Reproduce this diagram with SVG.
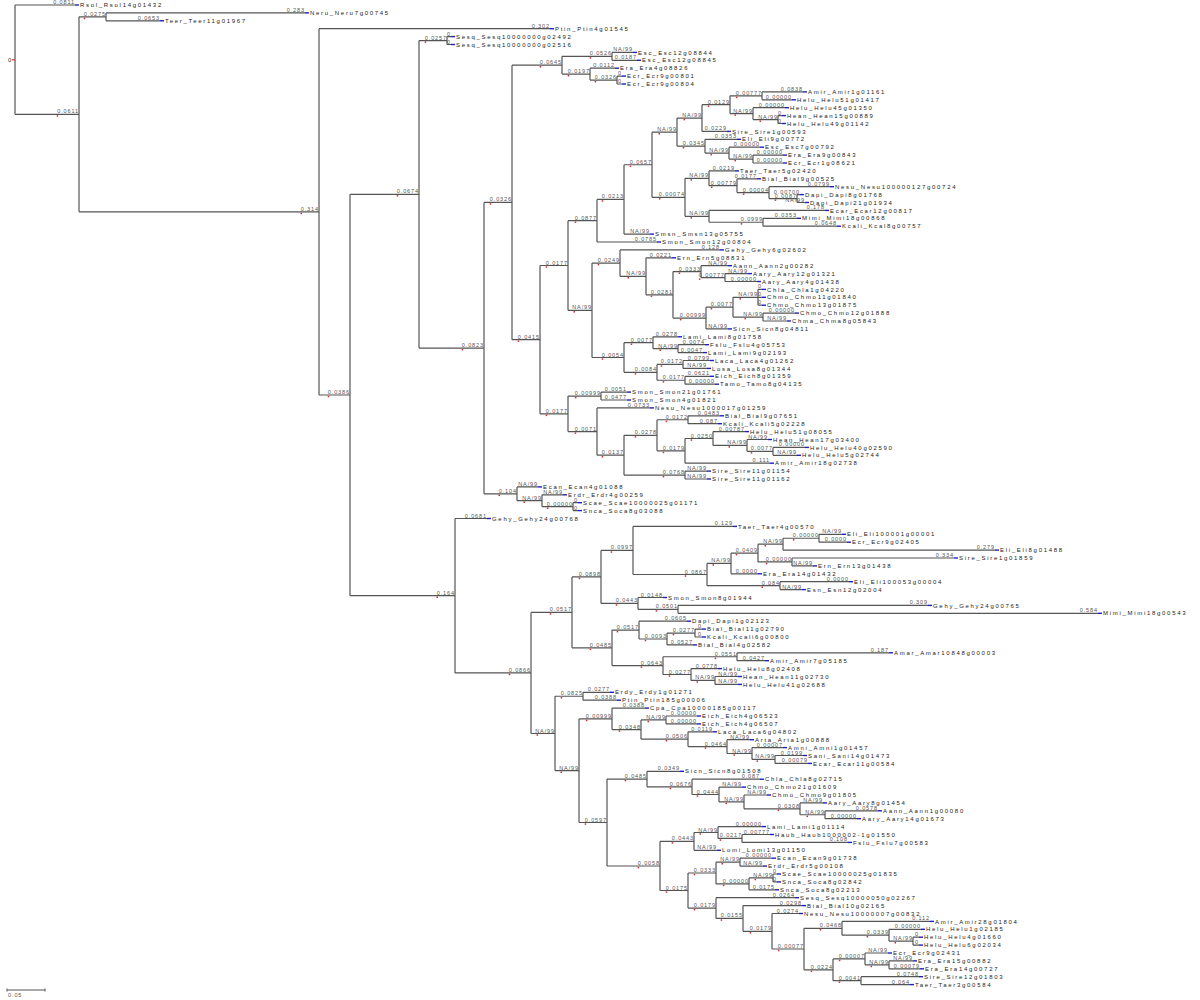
<svg xmlns="http://www.w3.org/2000/svg" width="1200" height="1000" viewBox="0 0 1200 1000">
<style>
.e path{fill:none;stroke:#555;stroke-width:1.2}
.b{font-family:"Liberation Sans",Arial,sans-serif;font-size:5.5px;fill:#555;letter-spacing:0.9px;text-anchor:end}
.l{font-family:"Liberation Sans",Arial,sans-serif;font-size:6px;fill:#222;letter-spacing:1.7px}
.m{fill:#1f1fc8}
.r{fill:#d03030}
</style>
<rect width="1200" height="1000" fill="#fff"/>
<g id="edges" class="e">
<path d="M15,5V114.35M15,5H75M15,114.35H79"/>
<path d="M79,16.85V211.85M79,16.85H106M79,211.85H319"/>
<path d="M106,12.9V20.8M106,12.9H305M106,20.8H160"/>
<path d="M319,28.7V395M319,28.7H550M319,395H350"/>
<path d="M350,194.3V595.7M350,194.3H419M350,595.7H455"/>
<path d="M419,40.55V348.1M419,40.55H447M419,348.1H484"/>
<path d="M447,36.6V44.5M447,36.6H451M447,44.5H451"/>
<path d="M484,202.4V493.8M484,202.4H512M484,493.8H517"/>
<path d="M512,65.2V339.65M512,65.2H562M512,339.65H540"/>
<path d="M562,56.35V74.1M562,56.35H612M562,74.1H590"/>
<path d="M612,52.4V60.3M612,52.4H633M612,60.3H637"/>
<path d="M590,68.2V80.05M590,68.2H615M590,80.05H617"/>
<path d="M617,76.1V84M617,76.1H622M617,84H622"/>
<path d="M540,265.5V413.8M540,265.5H568M540,413.8H568"/>
<path d="M568,220.7V310.3M568,220.7H597M568,310.3H592"/>
<path d="M597,199.4V242M597,199.4H624M597,242H657"/>
<path d="M624,164.75V234.1M624,164.75H652M624,234.1H650"/>
<path d="M652,132.2V197.3M652,132.2H677M652,197.3H685"/>
<path d="M677,118.1V146.2M677,118.1H702M677,146.2H705"/>
<path d="M702,104.7V131.4M702,104.7H730M702,131.4H727"/>
<path d="M730,95.85V113.6M730,95.85H762M730,113.6H753"/>
<path d="M762,91.9V99.8M762,91.9H803M762,99.8H792"/>
<path d="M753,107.7V119.55M753,107.7H785M753,119.55H778"/>
<path d="M778,115.6V123.5M778,115.6H782M778,123.5H782"/>
<path d="M705,139.3V153.1M705,139.3H737M705,153.1H729"/>
<path d="M729,147.2V159.05M729,147.2H760M729,159.05H753"/>
<path d="M753,155.1V163M753,155.1H783M753,163H783"/>
<path d="M685,178.3V216.3M685,178.3H709M685,216.3H709"/>
<path d="M709,170.9V185.7M709,170.9H735M709,185.7H737"/>
<path d="M737,178.8V192.6M737,178.8H757M737,192.6H769"/>
<path d="M769,186.7V198.55M769,186.7H830M769,198.55H797"/>
<path d="M797,194.6V202.5M797,194.6H800M797,202.5H805"/>
<path d="M709,210.4V222.25M709,210.4H825M709,222.25H763"/>
<path d="M763,218.3V226.2M763,218.3H797M763,226.2H837"/>
<path d="M592,263.1V357.5M592,263.1H620M592,357.5H624"/>
<path d="M620,249.9V276.3M620,249.9H720M620,276.3H646"/>
<path d="M646,257.8V294.8M646,257.8H672M646,294.8H673"/>
<path d="M673,271.6V318.05M673,271.6H701M673,318.05H706"/>
<path d="M701,265.7V277.55M701,265.7H728M701,277.55H725"/>
<path d="M725,273.6V281.5M725,273.6H748M725,281.5H757"/>
<path d="M706,307.2V328.9M706,307.2H733M706,328.9H728"/>
<path d="M733,297.3V317.05M733,297.3H758M733,317.05H763"/>
<path d="M758,289.4V305.2M758,289.4H762M758,297.3H762M758,305.2H762"/>
<path d="M763,313.1V321M763,313.1H795M763,321H787"/>
<path d="M624,342.7V372.35M624,342.7H653M624,372.35H657"/>
<path d="M653,336.8V348.65M653,336.8H678M653,348.65H678"/>
<path d="M678,344.7V352.6M678,344.7H705M678,352.6H703"/>
<path d="M657,364.45V380.25M657,364.45H683M657,380.25H685"/>
<path d="M683,360.5V368.4M683,360.5H710M683,368.4H707"/>
<path d="M685,376.3V384.2M685,376.3H710M685,384.2H715"/>
<path d="M568,396.05V431.55M568,396.05H601M568,431.55H597"/>
<path d="M601,392.1V400M601,392.1H627M601,400H627"/>
<path d="M597,407.9V455.2M597,407.9H650M597,455.2H624"/>
<path d="M624,435.3V475.05M624,435.3H657M624,475.05H685"/>
<path d="M657,419.75V450.85M657,419.75H688M657,450.85H685"/>
<path d="M688,415.8V423.7M688,415.8H720M688,423.7H718"/>
<path d="M685,438.5V463.2M685,438.5H713M685,463.2H770"/>
<path d="M713,431.6V445.4M713,431.6H745M713,445.4H747"/>
<path d="M747,439.5V451.35M747,439.5H768M747,451.35H773"/>
<path d="M773,447.4V455.3M773,447.4H805M773,455.3H797"/>
<path d="M685,471.1V479M685,471.1H707M685,479H707"/>
<path d="M517,486.9V500.7M517,486.9H538M517,500.7H542"/>
<path d="M542,494.8V506.65M542,494.8H563M542,506.65H573"/>
<path d="M573,502.7V510.6M573,502.7H578M573,510.6H578"/>
<path d="M455,518.5V672.9M455,518.5H487M455,672.9H531"/>
<path d="M531,612.4V733.5M531,612.4H572M531,733.5H555"/>
<path d="M572,576.9V647.85M572,576.9H601M572,647.85H612"/>
<path d="M601,550.45V603.4M601,550.45H633M601,603.4H638"/>
<path d="M633,526.4V574.5M633,526.4H733M633,574.5H707"/>
<path d="M707,563.4V585.65M707,563.4H731M707,585.65H780"/>
<path d="M731,553.1V573.8M731,553.1H758M731,573.8H758"/>
<path d="M758,544.2V561.95M758,544.2H783M758,561.95H792"/>
<path d="M783,538.25V550.1M783,538.25H819M783,550.1H995"/>
<path d="M819,534.3V542.2M819,534.3H842M819,542.2H847"/>
<path d="M792,558V565.9M792,558H954M792,565.9H813"/>
<path d="M780,581.7V589.6M780,581.7H849M780,589.6H802"/>
<path d="M638,597.5V609.35M638,597.5H663M638,609.35H678"/>
<path d="M678,605.4V613.3M678,605.4H928M678,613.3H1098"/>
<path d="M612,630.1V665.6M612,630.1H639M612,665.6H663"/>
<path d="M639,621.2V638.98M639,621.2H687M639,638.98H667"/>
<path d="M667,633.05V644.9M667,633.05H695M667,644.9H693"/>
<path d="M695,629.1V637M695,629.1H702M695,637H702"/>
<path d="M663,656.75V674.5M663,656.75H737M663,674.5H691"/>
<path d="M737,652.8V660.7M737,652.8H889M737,660.7H765"/>
<path d="M691,668.6V680.45M691,668.6H718M691,680.45H715"/>
<path d="M715,676.5V684.4M715,676.5H738M715,684.4H738"/>
<path d="M555,696.25V770.7M555,696.25H583M555,770.7H579"/>
<path d="M583,692.3V700.2M583,692.3H610M583,700.2H617"/>
<path d="M579,718.85V822.5M579,718.85H612M579,822.5H607"/>
<path d="M612,708.1V729.6M612,708.1H645M612,729.6H641"/>
<path d="M641,719.95V739.2M641,719.95H666M641,739.2H688"/>
<path d="M666,716V723.9M666,716H697M666,723.9H697"/>
<path d="M688,731.8V746.6M688,731.8H713M688,746.6H727"/>
<path d="M727,739.7V753.5M727,739.7H750M727,753.5H752"/>
<path d="M752,747.6V759.45M752,747.6H783M752,759.45H775"/>
<path d="M775,755.5V763.4M775,755.5H803M775,763.4H808"/>
<path d="M607,779.1V866M607,779.1H647M607,866H660"/>
<path d="M647,771.3V786.85M647,771.3H680M647,786.85H692"/>
<path d="M692,779.2V794.5M692,779.2H760M692,794.5H719"/>
<path d="M719,787.1V801.9M719,787.1H742M719,801.9H744"/>
<path d="M744,795V808.8M744,795H767M744,808.8H800"/>
<path d="M800,802.9V814.75M800,802.9H823M800,814.75H825"/>
<path d="M825,810.8V818.7M825,810.8H878M825,818.7H857"/>
<path d="M660,841.4V890.5M660,841.4H694M660,890.5H688"/>
<path d="M694,832.5V850.3M694,832.5H718M694,850.3H717"/>
<path d="M718,826.6V838.45M718,826.6H762M718,838.45H742"/>
<path d="M742,834.5V842.4M742,834.5H770M742,842.4H848"/>
<path d="M688,873V908.1M688,873H716M688,908.1H716"/>
<path d="M716,862.15V883.9M716,862.15H740M716,883.9H749"/>
<path d="M740,858.2V866.1M740,858.2H772M740,866.1H763"/>
<path d="M749,877.95V889.8M749,877.95H773M749,889.8H775"/>
<path d="M773,874V881.9M773,874H777M773,881.9H777"/>
<path d="M716,897.7V918.45M716,897.7H795M716,918.45H743"/>
<path d="M743,905.6V931.3M743,905.6H802M743,931.3H772"/>
<path d="M772,913.5V949M772,913.5H799M772,949H804"/>
<path d="M804,928.3V969.8M804,928.3H842M804,969.8H833"/>
<path d="M842,921.4V935.2M842,921.4H930M842,935.2H889"/>
<path d="M889,929.3V941.15M889,929.3H921M889,941.15H913"/>
<path d="M913,937.2V945.1M913,937.2H919M913,945.1H919"/>
<path d="M833,958.9V980.65M833,958.9H865M833,980.65H861"/>
<path d="M865,953V964.85M865,953H888M865,964.85H889"/>
<path d="M889,960.9V968.8M889,960.9H913M889,968.8H920"/>
<path d="M861,976.7V984.6M861,976.7H919M861,984.6H910"/>
</g>
<g id="nroot"><text x="8" y="61.5" style="font-family:'Liberation Sans',Arial,sans-serif;font-size:6px;fill:#333">0</text><rect class="r" x="12" y="59.2" width="3" height="1.2"/></g>
<g id="nA"><text class="b" x="79" y="113.4">0.0611</text><rect class="r" x="56.7" y="115.2" width="1.5" height="1.5"/></g>
<g id="nN1"><text class="b" x="106" y="15.9">0.0275</text><rect class="r" x="83.7" y="17.7" width="1.5" height="1.5"/></g>
<g id="nB"><text class="b" x="319" y="210.9">0.314</text><rect class="r" x="300.5" y="212.7" width="1.5" height="1.5"/></g>
<g id="nC"><text class="b" x="350" y="394">0.0386</text><rect class="r" x="327.7" y="395.8" width="1.5" height="1.5"/></g>
<g id="n419"><text class="b" x="419" y="193.3">0.0674</text><rect class="r" x="396.7" y="195.1" width="1.5" height="1.5"/></g>
<g id="nsesq"><text class="b" x="447" y="39.5">0.0257</text><rect class="r" x="424.7" y="41.4" width="1.5" height="1.5"/></g>
<g id="n484"><text class="b" x="484" y="347.1">0.0823</text><rect class="r" x="461.7" y="348.9" width="1.5" height="1.5"/></g>
<g id="n512"><text class="b" x="512" y="201.4">0.0326</text><rect class="r" x="489.7" y="203.2" width="1.5" height="1.5"/></g>
<g id="n562"><text class="b" x="562" y="64.2">0.0645</text><rect class="r" x="539.7" y="66" width="1.5" height="1.5"/></g>
<g id="n612"><text class="b" x="612" y="55.3">0.0526</text><rect class="r" x="589.7" y="57.2" width="1.5" height="1.5"/></g>
<g id="n590"><text class="b" x="590" y="73.1">0.0197</text><rect class="r" x="567.7" y="74.9" width="1.5" height="1.5"/></g>
<g id="n617"><text class="b" x="617" y="79">0.0326</text><rect class="r" x="594.7" y="80.9" width="1.5" height="1.5"/></g>
<g id="n540"><text class="b" x="540" y="338.6">0.0415</text><rect class="r" x="517.7" y="340.5" width="1.5" height="1.5"/></g>
<g id="n568a"><text class="b" x="568" y="264.5">0.0177</text><rect class="r" x="545.7" y="266.3" width="1.5" height="1.5"/></g>
<g id="n597a"><text class="b" x="597" y="219.7">0.0877</text><rect class="r" x="574.7" y="221.5" width="1.5" height="1.5"/></g>
<g id="n624a"><text class="b" x="624" y="198.4">0.0213</text><rect class="r" x="601.7" y="200.2" width="1.5" height="1.5"/></g>
<g id="n652"><text class="b" x="652" y="163.7">0.0657</text><rect class="r" x="629.7" y="165.6" width="1.5" height="1.5"/></g>
<g id="n677"><text class="b" x="677" y="131.2">NA/99</text><rect class="r" x="658.5" y="133" width="1.5" height="1.5"/></g>
<g id="n702"><text class="b" x="702" y="117.1">NA/99</text><rect class="r" x="683.5" y="118.9" width="1.5" height="1.5"/></g>
<g id="n730"><text class="b" x="730" y="103.7">0.0129</text><rect class="r" x="707.7" y="105.5" width="1.5" height="1.5"/></g>
<g id="n762"><text class="b" x="762" y="94.8">0.00777</text><rect class="r" x="735.9" y="96.7" width="1.5" height="1.5"/></g>
<g id="n753a"><text class="b" x="753" y="112.6">NA/99</text><rect class="r" x="734.5" y="114.4" width="1.5" height="1.5"/></g>
<g id="n778"><text class="b" x="778" y="118.5">NA/99</text><rect class="r" x="759.5" y="120.4" width="1.5" height="1.5"/></g>
<g id="n705"><text class="b" x="705" y="145.2">0.0345</text><rect class="r" x="682.7" y="147" width="1.5" height="1.5"/></g>
<g id="n729"><text class="b" x="729" y="152.1">NA/99</text><rect class="r" x="710.5" y="153.9" width="1.5" height="1.5"/></g>
<g id="n753b"><text class="b" x="753" y="158">NA/99</text><rect class="r" x="734.5" y="159.9" width="1.5" height="1.5"/></g>
<g id="n685a"><text class="b" x="685" y="196.3">0.00074</text><rect class="r" x="658.9" y="198.1" width="1.5" height="1.5"/></g>
<g id="n709a"><text class="b" x="709" y="177.3">NA/99</text><rect class="r" x="690.5" y="179.1" width="1.5" height="1.5"/></g>
<g id="n737"><text class="b" x="737" y="184.7">0.00779</text><rect class="r" x="710.9" y="186.5" width="1.5" height="1.5"/></g>
<g id="n769"><text class="b" x="769" y="191.6">0.00004</text><rect class="r" x="742.9" y="193.4" width="1.5" height="1.5"/></g>
<g id="n797"><text class="b" x="797" y="197.5">0.0087</text><rect class="r" x="774.7" y="199.4" width="1.5" height="1.5"/></g>
<g id="n709b"><text class="b" x="709" y="215.3">NA/99</text><rect class="r" x="690.5" y="217.1" width="1.5" height="1.5"/></g>
<g id="n763"><text class="b" x="763" y="221.2">0.0999</text><rect class="r" x="740.7" y="223.1" width="1.5" height="1.5"/></g>
<g id="n592"><text class="b" x="592" y="309.3">NA/99</text><rect class="r" x="573.5" y="311.1" width="1.5" height="1.5"/></g>
<g id="n620"><text class="b" x="620" y="262.1">0.0249</text><rect class="r" x="597.7" y="263.9" width="1.5" height="1.5"/></g>
<g id="n646"><text class="b" x="646" y="275.3">NA/99</text><rect class="r" x="627.5" y="277.1" width="1.5" height="1.5"/></g>
<g id="n673"><text class="b" x="673" y="293.8">0.0281</text><rect class="r" x="650.7" y="295.6" width="1.5" height="1.5"/></g>
<g id="n701"><text class="b" x="701" y="270.6">0.0333</text><rect class="r" x="678.7" y="272.4" width="1.5" height="1.5"/></g>
<g id="n725"><text class="b" x="725" y="276.5">0.00777</text><rect class="r" x="698.9" y="278.4" width="1.5" height="1.5"/></g>
<g id="n706"><text class="b" x="706" y="317">0.00999</text><rect class="r" x="679.9" y="318.9" width="1.5" height="1.5"/></g>
<g id="n733"><text class="b" x="733" y="306.2">0.0077</text><rect class="r" x="710.7" y="308" width="1.5" height="1.5"/></g>
<g id="n758"><text class="b" x="758" y="296.3">NA/99</text><rect class="r" x="739.5" y="298.1" width="1.5" height="1.5"/></g>
<g id="n763b"><text class="b" x="763" y="316">NA/99</text><rect class="r" x="744.5" y="317.9" width="1.5" height="1.5"/></g>
<g id="n624b"><text class="b" x="624" y="356.5">0.0054</text><rect class="r" x="601.7" y="358.3" width="1.5" height="1.5"/></g>
<g id="n653"><text class="b" x="653" y="341.7">0.0077</text><rect class="r" x="630.7" y="343.5" width="1.5" height="1.5"/></g>
<g id="n678"><text class="b" x="678" y="347.6">NA/99</text><rect class="r" x="659.5" y="349.5" width="1.5" height="1.5"/></g>
<g id="n657"><text class="b" x="657" y="371.3">0.0084</text><rect class="r" x="634.7" y="373.2" width="1.5" height="1.5"/></g>
<g id="n683"><text class="b" x="683" y="363.4">0.0172</text><rect class="r" x="660.7" y="365.3" width="1.5" height="1.5"/></g>
<g id="n685b"><text class="b" x="685" y="379.2">0.0177</text><rect class="r" x="662.7" y="381.1" width="1.5" height="1.5"/></g>
<g id="n568b"><text class="b" x="568" y="412.8">0.0177</text><rect class="r" x="545.7" y="414.6" width="1.5" height="1.5"/></g>
<g id="n601"><text class="b" x="601" y="395">0.00999</text><rect class="r" x="574.9" y="396.9" width="1.5" height="1.5"/></g>
<g id="n597b"><text class="b" x="597" y="430.5">0.0071</text><rect class="r" x="574.7" y="432.4" width="1.5" height="1.5"/></g>
<g id="n624c"><text class="b" x="624" y="454.2">0.0137</text><rect class="r" x="601.7" y="456" width="1.5" height="1.5"/></g>
<g id="n657b"><text class="b" x="657" y="434.3">0.0278</text><rect class="r" x="634.7" y="436.1" width="1.5" height="1.5"/></g>
<g id="n688"><text class="b" x="688" y="418.7">0.0172</text><rect class="r" x="665.7" y="420.6" width="1.5" height="1.5"/></g>
<g id="n685d"><text class="b" x="685" y="449.8">0.0179</text><rect class="r" x="662.7" y="451.7" width="1.5" height="1.5"/></g>
<g id="n713"><text class="b" x="713" y="437.5">0.0250</text><rect class="r" x="690.7" y="439.3" width="1.5" height="1.5"/></g>
<g id="n747"><text class="b" x="747" y="444.4">NA/99</text><rect class="r" x="728.5" y="446.2" width="1.5" height="1.5"/></g>
<g id="n773"><text class="b" x="773" y="450.3">0.0077</text><rect class="r" x="750.7" y="452.2" width="1.5" height="1.5"/></g>
<g id="n685c"><text class="b" x="685" y="474">0.0768</text><rect class="r" x="662.7" y="475.9" width="1.5" height="1.5"/></g>
<g id="n517"><text class="b" x="517" y="492.8">0.104</text><rect class="r" x="498.5" y="494.6" width="1.5" height="1.5"/></g>
<g id="n542"><text class="b" x="542" y="499.7">NA/99</text><rect class="r" x="523.5" y="501.5" width="1.5" height="1.5"/></g>
<g id="n573"><text class="b" x="573" y="505.6">0.00000</text><rect class="r" x="546.9" y="507.5" width="1.5" height="1.5"/></g>
<g id="nD"><text class="b" x="455" y="594.7">0.164</text><rect class="r" x="436.5" y="596.5" width="1.5" height="1.5"/></g>
<g id="nE"><text class="b" x="531" y="671.9">0.0866</text><rect class="r" x="508.7" y="673.7" width="1.5" height="1.5"/></g>
<g id="nF"><text class="b" x="572" y="611.4">0.0517</text><rect class="r" x="549.7" y="613.2" width="1.5" height="1.5"/></g>
<g id="nG"><text class="b" x="601" y="575.9">0.0898</text><rect class="r" x="578.7" y="577.7" width="1.5" height="1.5"/></g>
<g id="nH"><text class="b" x="633" y="549.4">0.0997</text><rect class="r" x="610.7" y="551.3" width="1.5" height="1.5"/></g>
<g id="nI"><text class="b" x="707" y="573.5">0.0867</text><rect class="r" x="684.7" y="575.3" width="1.5" height="1.5"/></g>
<g id="nJ"><text class="b" x="731" y="562.4">NA/99</text><rect class="r" x="712.5" y="564.2" width="1.5" height="1.5"/></g>
<g id="nK"><text class="b" x="758" y="552.1">0.0409</text><rect class="r" x="735.7" y="553.9" width="1.5" height="1.5"/></g>
<g id="nLn"><text class="b" x="783" y="543.2">NA/99</text><rect class="r" x="764.5" y="545" width="1.5" height="1.5"/></g>
<g id="nM"><text class="b" x="819" y="537.2">0.00000</text><rect class="r" x="792.9" y="539.1" width="1.5" height="1.5"/></g>
<g id="nNn"><text class="b" x="792" y="561">0.00000</text><rect class="r" x="765.9" y="562.8" width="1.5" height="1.5"/></g>
<g id="n780"><text class="b" x="780" y="584.6">0.084</text><rect class="r" x="761.5" y="586.5" width="1.5" height="1.5"/></g>
<g id="n638"><text class="b" x="638" y="602.4">0.0443</text><rect class="r" x="615.7" y="604.2" width="1.5" height="1.5"/></g>
<g id="n678f"><text class="b" x="678" y="608.3">0.0501</text><rect class="r" x="655.7" y="610.2" width="1.5" height="1.5"/></g>
<g id="n612f"><text class="b" x="612" y="646.8">0.0485</text><rect class="r" x="589.7" y="648.7" width="1.5" height="1.5"/></g>
<g id="n639"><text class="b" x="639" y="629.1">0.0517</text><rect class="r" x="616.7" y="630.9" width="1.5" height="1.5"/></g>
<g id="n667"><text class="b" x="667" y="638">0.0093</text><rect class="r" x="644.7" y="639.8" width="1.5" height="1.5"/></g>
<g id="n695"><text class="b" x="695" y="632">0.0277</text><rect class="r" x="672.7" y="633.9" width="1.5" height="1.5"/></g>
<g id="n663"><text class="b" x="663" y="664.6">0.0643</text><rect class="r" x="640.7" y="666.4" width="1.5" height="1.5"/></g>
<g id="n737f"><text class="b" x="737" y="655.7">0.0551</text><rect class="r" x="714.7" y="657.6" width="1.5" height="1.5"/></g>
<g id="n691"><text class="b" x="691" y="673.5">0.0277</text><rect class="r" x="668.7" y="675.3" width="1.5" height="1.5"/></g>
<g id="n715"><text class="b" x="715" y="679.4">NA/99</text><rect class="r" x="696.5" y="681.3" width="1.5" height="1.5"/></g>
<g id="n555"><text class="b" x="555" y="732.5">NA/99</text><rect class="r" x="536.5" y="734.3" width="1.5" height="1.5"/></g>
<g id="n583"><text class="b" x="583" y="695.2">0.0825</text><rect class="r" x="560.7" y="697.1" width="1.5" height="1.5"/></g>
<g id="n579"><text class="b" x="579" y="769.7">NA/99</text><rect class="r" x="560.5" y="771.5" width="1.5" height="1.5"/></g>
<g id="n612b"><text class="b" x="612" y="717.8">0.00999</text><rect class="r" x="585.9" y="719.7" width="1.5" height="1.5"/></g>
<g id="n641"><text class="b" x="641" y="728.6">0.0348</text><rect class="r" x="618.7" y="730.4" width="1.5" height="1.5"/></g>
<g id="n666"><text class="b" x="666" y="718.9">NA/99</text><rect class="r" x="647.5" y="720.8" width="1.5" height="1.5"/></g>
<g id="n688b"><text class="b" x="688" y="738.2">0.0506</text><rect class="r" x="665.7" y="740" width="1.5" height="1.5"/></g>
<g id="n727"><text class="b" x="727" y="745.6">0.0464</text><rect class="r" x="704.7" y="747.4" width="1.5" height="1.5"/></g>
<g id="n752"><text class="b" x="752" y="752.5">NA/99</text><rect class="r" x="733.5" y="754.3" width="1.5" height="1.5"/></g>
<g id="n775"><text class="b" x="775" y="758.4">NA/99</text><rect class="r" x="756.5" y="760.3" width="1.5" height="1.5"/></g>
<g id="n607"><text class="b" x="607" y="821.5">0.0597</text><rect class="r" x="584.7" y="823.3" width="1.5" height="1.5"/></g>
<g id="n647"><text class="b" x="647" y="778.1">0.0485</text><rect class="r" x="624.7" y="779.9" width="1.5" height="1.5"/></g>
<g id="n692"><text class="b" x="692" y="785.8">0.0676</text><rect class="r" x="669.7" y="787.7" width="1.5" height="1.5"/></g>
<g id="n719"><text class="b" x="719" y="793.5">0.0444</text><rect class="r" x="696.7" y="795.3" width="1.5" height="1.5"/></g>
<g id="n744"><text class="b" x="744" y="800.9">NA/99</text><rect class="r" x="725.5" y="802.7" width="1.5" height="1.5"/></g>
<g id="n800"><text class="b" x="800" y="807.8">0.0308</text><rect class="r" x="777.7" y="809.6" width="1.5" height="1.5"/></g>
<g id="n825"><text class="b" x="825" y="813.7">NA/99</text><rect class="r" x="806.5" y="815.6" width="1.5" height="1.5"/></g>
<g id="n660"><text class="b" x="660" y="865">0.0058</text><rect class="r" x="637.7" y="866.8" width="1.5" height="1.5"/></g>
<g id="n694"><text class="b" x="694" y="840.4">0.0443</text><rect class="r" x="671.7" y="842.2" width="1.5" height="1.5"/></g>
<g id="n718"><text class="b" x="718" y="831.5">NA/99</text><rect class="r" x="699.5" y="833.3" width="1.5" height="1.5"/></g>
<g id="n742"><text class="b" x="742" y="837.4">0.0217</text><rect class="r" x="719.7" y="839.3" width="1.5" height="1.5"/></g>
<g id="n688c"><text class="b" x="688" y="889.5">0.0175</text><rect class="r" x="665.7" y="891.3" width="1.5" height="1.5"/></g>
<g id="n716"><text class="b" x="716" y="872">0.0333</text><rect class="r" x="693.7" y="873.8" width="1.5" height="1.5"/></g>
<g id="n740"><text class="b" x="740" y="861.1">NA/99</text><rect class="r" x="721.5" y="863" width="1.5" height="1.5"/></g>
<g id="n749"><text class="b" x="749" y="882.9">0.00000</text><rect class="r" x="722.9" y="884.7" width="1.5" height="1.5"/></g>
<g id="n773s"><text class="b" x="773" y="876.9">NA/99</text><rect class="r" x="754.5" y="878.8" width="1.5" height="1.5"/></g>
<g id="n716b"><text class="b" x="716" y="907.1">0.0179</text><rect class="r" x="693.7" y="908.9" width="1.5" height="1.5"/></g>
<g id="n743"><text class="b" x="743" y="917.4">0.0155</text><rect class="r" x="720.7" y="919.3" width="1.5" height="1.5"/></g>
<g id="n772"><text class="b" x="772" y="930.3">0.0179</text><rect class="r" x="749.7" y="932.1" width="1.5" height="1.5"/></g>
<g id="n804"><text class="b" x="804" y="948">0.00077</text><rect class="r" x="777.9" y="949.8" width="1.5" height="1.5"/></g>
<g id="n842"><text class="b" x="842" y="927.3">0.0468</text><rect class="r" x="819.7" y="929.1" width="1.5" height="1.5"/></g>
<g id="n889"><text class="b" x="889" y="934.2">0.0339</text><rect class="r" x="866.7" y="936" width="1.5" height="1.5"/></g>
<g id="n913"><text class="b" x="913" y="940.1">NA/99</text><rect class="r" x="894.5" y="942" width="1.5" height="1.5"/></g>
<g id="n833"><text class="b" x="833" y="968.8">0.0224</text><rect class="r" x="810.7" y="970.6" width="1.5" height="1.5"/></g>
<g id="n865"><text class="b" x="865" y="957.9">0.00007</text><rect class="r" x="838.9" y="959.7" width="1.5" height="1.5"/></g>
<g id="n889b"><text class="b" x="889" y="963.8">NA/99</text><rect class="r" x="870.5" y="965.7" width="1.5" height="1.5"/></g>
<g id="n861"><text class="b" x="861" y="979.6">0.0041</text><rect class="r" x="838.7" y="981.5" width="1.5" height="1.5"/></g>
<g id="lf0"><text class="b" x="75" y="4">0.0811</text><rect class="m" x="75" y="4.3" width="4" height="1.4"/><text class="l" x="80" y="7.1">Rsol_Rsol14g01432</text></g>
<g id="lf1"><text class="b" x="305" y="11.9">0.283</text><rect class="m" x="305" y="12.2" width="4" height="1.4"/><text class="l" x="310" y="15">Neru_Neru7g00745</text></g>
<g id="lf2"><text class="b" x="160" y="19.8">0.0653</text><rect class="m" x="160" y="20.1" width="4" height="1.4"/><text class="l" x="165" y="22.9">Teer_Teer11g01967</text></g>
<g id="lf3"><text class="b" x="550" y="27.7">0.302</text><rect class="m" x="550" y="28" width="4" height="1.4"/><text class="l" x="555" y="30.8">Ptin_Ptin4g01545</text></g>
<g id="lf4"><text class="b" x="451" y="35.6">0</text><rect class="m" x="451" y="35.9" width="4" height="1.4"/><text class="l" x="456" y="38.7">Sesq_Sesq10000000g02492</text></g>
<g id="lf5"><text class="b" x="451" y="43.5">0</text><rect class="m" x="451" y="43.8" width="4" height="1.4"/><text class="l" x="456" y="46.6">Sesq_Sesq10000000g02516</text></g>
<g id="lf6"><text class="b" x="633" y="51.4">NA/99</text><rect class="m" x="633" y="51.7" width="4" height="1.4"/><text class="l" x="638" y="54.5">Esc_Esc12g08844</text></g>
<g id="lf7"><text class="b" x="637" y="59.3">0.0187</text><rect class="m" x="637" y="59.6" width="4" height="1.4"/><text class="l" x="642" y="62.4">Esc_Esc12g08845</text></g>
<g id="lf8"><text class="b" x="615" y="67.2">0.0112</text><rect class="m" x="615" y="67.5" width="4" height="1.4"/><text class="l" x="620" y="70.3">Era_Era4g08826</text></g>
<g id="lf9"><text class="b" x="622" y="75.1">0</text><rect class="m" x="622" y="75.4" width="4" height="1.4"/><text class="l" x="627" y="78.2">Ecr_Ecr9g00801</text></g>
<g id="lf10"><text class="b" x="622" y="83">0</text><rect class="m" x="622" y="83.3" width="4" height="1.4"/><text class="l" x="627" y="86.1">Ecr_Ecr9g00804</text></g>
<g id="lf11"><text class="b" x="803" y="90.9">0.0838</text><rect class="m" x="803" y="91.2" width="4" height="1.4"/><text class="l" x="808" y="94">Amir_Amir1g01161</text></g>
<g id="lf12"><text class="b" x="792" y="98.8">0.00000</text><rect class="m" x="792" y="99.1" width="4" height="1.4"/><text class="l" x="797" y="101.9">Helu_Helu51g01417</text></g>
<g id="lf13"><text class="b" x="785" y="106.7">0.00000</text><rect class="m" x="785" y="107" width="4" height="1.4"/><text class="l" x="790" y="109.8">Helu_Helu45g01350</text></g>
<g id="lf14"><text class="b" x="782" y="114.6">0</text><rect class="m" x="782" y="114.9" width="4" height="1.4"/><text class="l" x="787" y="117.7">Hean_Hean15g00889</text></g>
<g id="lf15"><text class="b" x="782" y="122.5">0</text><rect class="m" x="782" y="122.8" width="4" height="1.4"/><text class="l" x="787" y="125.6">Helu_Helu49g01142</text></g>
<g id="lf16"><text class="b" x="727" y="130.4">0.0229</text><rect class="m" x="727" y="130.7" width="4" height="1.4"/><text class="l" x="732" y="133.5">Sire_Sire1g00593</text></g>
<g id="lf17"><text class="b" x="737" y="138.3">0.0353</text><rect class="m" x="737" y="138.6" width="4" height="1.4"/><text class="l" x="742" y="141.4">Eli_Eli9g00772</text></g>
<g id="lf18"><text class="b" x="760" y="146.2">0.00000</text><rect class="m" x="760" y="146.5" width="4" height="1.4"/><text class="l" x="765" y="149.3">Esc_Esc7g00792</text></g>
<g id="lf19"><text class="b" x="783" y="154.1">0.00000</text><rect class="m" x="783" y="154.4" width="4" height="1.4"/><text class="l" x="788" y="157.2">Era_Era9g00843</text></g>
<g id="lf20"><text class="b" x="783" y="162">0.00000</text><rect class="m" x="783" y="162.3" width="4" height="1.4"/><text class="l" x="788" y="165.1">Ecr_Ecr1g08621</text></g>
<g id="lf21"><text class="b" x="735" y="169.9">0.0219</text><rect class="m" x="735" y="170.2" width="4" height="1.4"/><text class="l" x="740" y="173">Taer_Taer5g02420</text></g>
<g id="lf22"><text class="b" x="757" y="177.8">0.0177</text><rect class="m" x="757" y="178.1" width="4" height="1.4"/><text class="l" x="762" y="180.9">Bial_Bial9g00525</text></g>
<g id="lf23"><text class="b" x="830" y="185.7">0.0799</text><rect class="m" x="830" y="186" width="4" height="1.4"/><text class="l" x="835" y="188.8">Nesu_Nesu100000127g00724</text></g>
<g id="lf24"><text class="b" x="800" y="193.6">0.00700</text><rect class="m" x="800" y="193.9" width="4" height="1.4"/><text class="l" x="805" y="196.7">Dapi_Dapi8g01768</text></g>
<g id="lf25"><text class="b" x="805" y="201.5">NA/99</text><rect class="m" x="805" y="201.8" width="4" height="1.4"/><text class="l" x="810" y="204.6">Dapi_Dapi21g01934</text></g>
<g id="lf26"><text class="b" x="825" y="209.4">0.178</text><rect class="m" x="825" y="209.7" width="4" height="1.4"/><text class="l" x="830" y="212.5">Ecar_Ecar12g00817</text></g>
<g id="lf27"><text class="b" x="797" y="217.3">0.0353</text><rect class="m" x="797" y="217.6" width="4" height="1.4"/><text class="l" x="802" y="220.4">Mimi_Mimi18g00868</text></g>
<g id="lf28"><text class="b" x="837" y="225.2">0.0648</text><rect class="m" x="837" y="225.5" width="4" height="1.4"/><text class="l" x="842" y="228.3">Kcali_Kcal8g00757</text></g>
<g id="lf29"><text class="b" x="650" y="233.1">NA/99</text><rect class="m" x="650" y="233.4" width="4" height="1.4"/><text class="l" x="655" y="236.2">Smsn_Smsn13g05755</text></g>
<g id="lf30"><text class="b" x="657" y="241">0.0785</text><rect class="m" x="657" y="241.3" width="4" height="1.4"/><text class="l" x="662" y="244.1">Smon_Smon12g00804</text></g>
<g id="lf31"><text class="b" x="720" y="248.9">0.128</text><rect class="m" x="720" y="249.2" width="4" height="1.4"/><text class="l" x="725" y="252">Gehy_Gehy6g02602</text></g>
<g id="lf32"><text class="b" x="672" y="256.8">0.0221</text><rect class="m" x="672" y="257.1" width="4" height="1.4"/><text class="l" x="677" y="259.9">Ern_Ern5g08831</text></g>
<g id="lf33"><text class="b" x="728" y="264.7">NA/99</text><rect class="m" x="728" y="265" width="4" height="1.4"/><text class="l" x="733" y="267.8">Aann_Aann2g00282</text></g>
<g id="lf34"><text class="b" x="748" y="272.6">NA/99</text><rect class="m" x="748" y="272.9" width="4" height="1.4"/><text class="l" x="753" y="275.7">Aary_Aary12g01321</text></g>
<g id="lf35"><text class="b" x="757" y="280.5">0.00000</text><rect class="m" x="757" y="280.8" width="4" height="1.4"/><text class="l" x="762" y="283.6">Aary_Aary4g01438</text></g>
<g id="lf36"><text class="b" x="762" y="288.4">0</text><rect class="m" x="762" y="288.7" width="4" height="1.4"/><text class="l" x="767" y="291.5">Chla_Chla1g04220</text></g>
<g id="lf37"><text class="b" x="762" y="296.3">0</text><rect class="m" x="762" y="296.6" width="4" height="1.4"/><text class="l" x="767" y="299.4">Chmo_Chmo11g01840</text></g>
<g id="lf38"><text class="b" x="762" y="304.2">0</text><rect class="m" x="762" y="304.5" width="4" height="1.4"/><text class="l" x="767" y="307.3">Chmo_Chmo13g01875</text></g>
<g id="lf39"><text class="b" x="795" y="312.1">0.00000</text><rect class="m" x="795" y="312.4" width="4" height="1.4"/><text class="l" x="800" y="315.2">Chmo_Chmo12g01888</text></g>
<g id="lf40"><text class="b" x="787" y="320">NA/99</text><rect class="m" x="787" y="320.3" width="4" height="1.4"/><text class="l" x="792" y="323.1">Chma_Chma8g05843</text></g>
<g id="lf41"><text class="b" x="728" y="327.9">NA/99</text><rect class="m" x="728" y="328.2" width="4" height="1.4"/><text class="l" x="733" y="331">Sicn_Sicn8g04811</text></g>
<g id="lf42"><text class="b" x="678" y="335.8">0.0278</text><rect class="m" x="678" y="336.1" width="4" height="1.4"/><text class="l" x="683" y="338.9">Lami_Lami8g01758</text></g>
<g id="lf43"><text class="b" x="705" y="343.7">0.0074</text><rect class="m" x="705" y="344" width="4" height="1.4"/><text class="l" x="710" y="346.8">Fslu_Fslu4g05753</text></g>
<g id="lf44"><text class="b" x="703" y="351.6">0.0047</text><rect class="m" x="703" y="351.9" width="4" height="1.4"/><text class="l" x="708" y="354.7">Lami_Lami9g02193</text></g>
<g id="lf45"><text class="b" x="710" y="359.5">0.0799</text><rect class="m" x="710" y="359.8" width="4" height="1.4"/><text class="l" x="715" y="362.6">Laca_Laca4g01262</text></g>
<g id="lf46"><text class="b" x="707" y="367.4">NA/99</text><rect class="m" x="707" y="367.7" width="4" height="1.4"/><text class="l" x="712" y="370.5">Losa_Losa8g01344</text></g>
<g id="lf47"><text class="b" x="710" y="375.3">0.0621</text><rect class="m" x="710" y="375.6" width="4" height="1.4"/><text class="l" x="715" y="378.4">Eich_Eich8g01359</text></g>
<g id="lf48"><text class="b" x="715" y="383.2">0.00000</text><rect class="m" x="715" y="383.5" width="4" height="1.4"/><text class="l" x="720" y="386.3">Tamo_Tamo8g04135</text></g>
<g id="lf49"><text class="b" x="627" y="391.1">0.0051</text><rect class="m" x="627" y="391.4" width="4" height="1.4"/><text class="l" x="632" y="394.2">Smon_Smon21g01761</text></g>
<g id="lf50"><text class="b" x="627" y="399">0.0477</text><rect class="m" x="627" y="399.3" width="4" height="1.4"/><text class="l" x="632" y="402.1">Smon_Smon4g01821</text></g>
<g id="lf51"><text class="b" x="650" y="406.9">0.0733</text><rect class="m" x="650" y="407.2" width="4" height="1.4"/><text class="l" x="655" y="410">Nesu_Nesu1000017g01259</text></g>
<g id="lf52"><text class="b" x="720" y="414.8">0.0483</text><rect class="m" x="720" y="415.1" width="4" height="1.4"/><text class="l" x="725" y="417.9">Bial_Bial9g07651</text></g>
<g id="lf53"><text class="b" x="718" y="422.7">0.087</text><rect class="m" x="718" y="423" width="4" height="1.4"/><text class="l" x="723" y="425.8">Kcali_Kcali5g02228</text></g>
<g id="lf54"><text class="b" x="745" y="430.6">0.00787</text><rect class="m" x="745" y="430.9" width="4" height="1.4"/><text class="l" x="750" y="433.7">Helu_Helu51g08055</text></g>
<g id="lf55"><text class="b" x="768" y="438.5">NA/99</text><rect class="m" x="768" y="438.8" width="4" height="1.4"/><text class="l" x="773" y="441.6">Hean_Hean17g03400</text></g>
<g id="lf56"><text class="b" x="805" y="446.4">0.00000</text><rect class="m" x="805" y="446.7" width="4" height="1.4"/><text class="l" x="810" y="449.5">Helu_Helu40g02590</text></g>
<g id="lf57"><text class="b" x="797" y="454.3">NA/99</text><rect class="m" x="797" y="454.6" width="4" height="1.4"/><text class="l" x="802" y="457.4">Helu_Helu5g02744</text></g>
<g id="lf58"><text class="b" x="770" y="462.2">0.111</text><rect class="m" x="770" y="462.5" width="4" height="1.4"/><text class="l" x="775" y="465.3">Amir_Amir18g02738</text></g>
<g id="lf59"><text class="b" x="707" y="470.1">NA/99</text><rect class="m" x="707" y="470.4" width="4" height="1.4"/><text class="l" x="712" y="473.2">Sire_Sire11g01154</text></g>
<g id="lf60"><text class="b" x="707" y="478">NA/99</text><rect class="m" x="707" y="478.3" width="4" height="1.4"/><text class="l" x="712" y="481.1">Sire_Sire11g01162</text></g>
<g id="lf61"><text class="b" x="538" y="485.9">NA/99</text><rect class="m" x="538" y="486.2" width="4" height="1.4"/><text class="l" x="543" y="489">Ecan_Ecan4g01088</text></g>
<g id="lf62"><text class="b" x="563" y="493.8">NA/99</text><rect class="m" x="563" y="494.1" width="4" height="1.4"/><text class="l" x="568" y="496.9">Erdr_Erdr4g00259</text></g>
<g id="lf63"><text class="b" x="578" y="501.7">0</text><rect class="m" x="578" y="502" width="4" height="1.4"/><text class="l" x="583" y="504.8">Scae_Scae10000025g01171</text></g>
<g id="lf64"><text class="b" x="578" y="509.6">0</text><rect class="m" x="578" y="509.9" width="4" height="1.4"/><text class="l" x="583" y="512.7">Snca_Soca8g03088</text></g>
<g id="lf65"><text class="b" x="487" y="517.5">0.0681</text><rect class="m" x="487" y="517.8" width="4" height="1.4"/><text class="l" x="492" y="520.6">Gehy_Gehy24g00768</text></g>
<g id="lf66"><text class="b" x="733" y="525.4">0.129</text><rect class="m" x="733" y="525.7" width="4" height="1.4"/><text class="l" x="738" y="528.5">Taer_Taer4g00570</text></g>
<g id="lf67"><text class="b" x="842" y="533.3">NA/99</text><rect class="m" x="842" y="533.6" width="4" height="1.4"/><text class="l" x="847" y="536.4">Eli_Eli100001g00001</text></g>
<g id="lf68"><text class="b" x="847" y="541.2">0.0000</text><rect class="m" x="847" y="541.5" width="4" height="1.4"/><text class="l" x="852" y="544.3">Ecr_Ecr9g02405</text></g>
<g id="lf69"><text class="b" x="995" y="549.1">0.279</text><rect class="m" x="995" y="549.4" width="4" height="1.4"/><text class="l" x="1000" y="552.2">Eli_Eli8g01488</text></g>
<g id="lf70"><text class="b" x="954" y="557">0.334</text><rect class="m" x="954" y="557.3" width="4" height="1.4"/><text class="l" x="959" y="560.1">Sire_Sire1g01859</text></g>
<g id="lf71"><text class="b" x="813" y="564.9">NA/99</text><rect class="m" x="813" y="565.2" width="4" height="1.4"/><text class="l" x="818" y="568">Ern_Ern13g01438</text></g>
<g id="lf72"><text class="b" x="758" y="572.8">0.0000</text><rect class="m" x="758" y="573.1" width="4" height="1.4"/><text class="l" x="763" y="575.9">Era_Era14g01432</text></g>
<g id="lf73"><text class="b" x="849" y="580.7">0.0000</text><rect class="m" x="849" y="581" width="4" height="1.4"/><text class="l" x="854" y="583.8">Eli_Eli100053g00004</text></g>
<g id="lf74"><text class="b" x="802" y="588.6">NA/99</text><rect class="m" x="802" y="588.9" width="4" height="1.4"/><text class="l" x="807" y="591.7">Esn_Esn12g02004</text></g>
<g id="lf75"><text class="b" x="663" y="596.5">0.0148</text><rect class="m" x="663" y="596.8" width="4" height="1.4"/><text class="l" x="668" y="599.6">Smon_Smon8g01944</text></g>
<g id="lf76"><text class="b" x="928" y="604.4">0.309</text><rect class="m" x="928" y="604.7" width="4" height="1.4"/><text class="l" x="933" y="607.5">Gehy_Gehy24g00765</text></g>
<g id="lf77"><text class="b" x="1098" y="612.3">0.584</text><rect class="m" x="1098" y="612.6" width="4" height="1.4"/><text class="l" x="1103" y="615.4">Mimi_Mimi18g00543</text></g>
<g id="lf78"><text class="b" x="687" y="620.2">0.0605</text><rect class="m" x="687" y="620.5" width="4" height="1.4"/><text class="l" x="692" y="623.3">Dapi_Dapi1g02123</text></g>
<g id="lf79"><text class="b" x="702" y="628.1">0</text><rect class="m" x="702" y="628.4" width="4" height="1.4"/><text class="l" x="707" y="631.2">Bial_Bial11g02790</text></g>
<g id="lf80"><text class="b" x="702" y="636">0</text><rect class="m" x="702" y="636.3" width="4" height="1.4"/><text class="l" x="707" y="639.1">Kcali_Kcali6g00800</text></g>
<g id="lf81"><text class="b" x="693" y="643.9">0.0527</text><rect class="m" x="693" y="644.2" width="4" height="1.4"/><text class="l" x="698" y="647">Bial_Bial4g02582</text></g>
<g id="lf82"><text class="b" x="889" y="651.8">0.187</text><rect class="m" x="889" y="652.1" width="4" height="1.4"/><text class="l" x="894" y="654.9">Amar_Amar10848g00003</text></g>
<g id="lf83"><text class="b" x="765" y="659.7">0.0427</text><rect class="m" x="765" y="660" width="4" height="1.4"/><text class="l" x="770" y="662.8">Amir_Amir7g05185</text></g>
<g id="lf84"><text class="b" x="718" y="667.6">0.0778</text><rect class="m" x="718" y="667.9" width="4" height="1.4"/><text class="l" x="723" y="670.7">Helu_Helu8g02408</text></g>
<g id="lf85"><text class="b" x="738" y="675.5">NA/99</text><rect class="m" x="738" y="675.8" width="4" height="1.4"/><text class="l" x="743" y="678.6">Hean_Hean11g02730</text></g>
<g id="lf86"><text class="b" x="738" y="683.4">NA/99</text><rect class="m" x="738" y="683.7" width="4" height="1.4"/><text class="l" x="743" y="686.5">Helu_Helu41g02688</text></g>
<g id="lf87"><text class="b" x="610" y="691.3">0.0277</text><rect class="m" x="610" y="691.6" width="4" height="1.4"/><text class="l" x="615" y="694.4">Erdy_Erdy1g01271</text></g>
<g id="lf88"><text class="b" x="617" y="699.2">0.0388</text><rect class="m" x="617" y="699.5" width="4" height="1.4"/><text class="l" x="622" y="702.3">Ptin_Ptin185g00006</text></g>
<g id="lf89"><text class="b" x="645" y="707.1">0.0388</text><rect class="m" x="645" y="707.4" width="4" height="1.4"/><text class="l" x="650" y="710.2">Cpa_Cpa10000185g00117</text></g>
<g id="lf90"><text class="b" x="697" y="715">0.00000</text><rect class="m" x="697" y="715.3" width="4" height="1.4"/><text class="l" x="702" y="718.1">Eich_Eich4g06523</text></g>
<g id="lf91"><text class="b" x="697" y="722.9">0.00000</text><rect class="m" x="697" y="723.2" width="4" height="1.4"/><text class="l" x="702" y="726">Eich_Eich4g06507</text></g>
<g id="lf92"><text class="b" x="713" y="730.8">0.0119</text><rect class="m" x="713" y="731.1" width="4" height="1.4"/><text class="l" x="718" y="733.9">Laca_Laca6g04802</text></g>
<g id="lf93"><text class="b" x="750" y="738.7">NA/99</text><rect class="m" x="750" y="739" width="4" height="1.4"/><text class="l" x="755" y="741.8">Arta_Arta1g00888</text></g>
<g id="lf94"><text class="b" x="783" y="746.6">0.00007</text><rect class="m" x="783" y="746.9" width="4" height="1.4"/><text class="l" x="788" y="749.7">Amni_Amni1g01457</text></g>
<g id="lf95"><text class="b" x="803" y="754.5">0.0199</text><rect class="m" x="803" y="754.8" width="4" height="1.4"/><text class="l" x="808" y="757.6">Sani_Sani14g01473</text></g>
<g id="lf96"><text class="b" x="808" y="762.4">0.00079</text><rect class="m" x="808" y="762.7" width="4" height="1.4"/><text class="l" x="813" y="765.5">Ecar_Ecar11g00584</text></g>
<g id="lf97"><text class="b" x="680" y="770.3">0.0349</text><rect class="m" x="680" y="770.6" width="4" height="1.4"/><text class="l" x="685" y="773.4">Sicn_Sicn8g01508</text></g>
<g id="lf98"><text class="b" x="760" y="778.2">0.087</text><rect class="m" x="760" y="778.5" width="4" height="1.4"/><text class="l" x="765" y="781.3">Chla_Chla8g02715</text></g>
<g id="lf99"><text class="b" x="742" y="786.1">NA/99</text><rect class="m" x="742" y="786.4" width="4" height="1.4"/><text class="l" x="747" y="789.2">Chmo_Chmo21g01609</text></g>
<g id="lf100"><text class="b" x="767" y="794">NA/99</text><rect class="m" x="767" y="794.3" width="4" height="1.4"/><text class="l" x="772" y="797.1">Chmo_Chmo9g01805</text></g>
<g id="lf101"><text class="b" x="823" y="801.9">NA/99</text><rect class="m" x="823" y="802.2" width="4" height="1.4"/><text class="l" x="828" y="805">Aary_Aary8g01454</text></g>
<g id="lf102"><text class="b" x="878" y="809.8">0.0578</text><rect class="m" x="878" y="810.1" width="4" height="1.4"/><text class="l" x="883" y="812.9">Aann_Aann1g00080</text></g>
<g id="lf103"><text class="b" x="857" y="817.7">0.00000</text><rect class="m" x="857" y="818" width="4" height="1.4"/><text class="l" x="862" y="820.8">Aary_Aary14g01673</text></g>
<g id="lf104"><text class="b" x="762" y="825.6">0.00000</text><rect class="m" x="762" y="825.9" width="4" height="1.4"/><text class="l" x="767" y="828.7">Lami_Lami1g01114</text></g>
<g id="lf105"><text class="b" x="770" y="833.5">0.00777</text><rect class="m" x="770" y="833.8" width="4" height="1.4"/><text class="l" x="775" y="836.6">Haub_Haub1000002-1g01550</text></g>
<g id="lf106"><text class="b" x="848" y="841.4">0.108</text><rect class="m" x="848" y="841.7" width="4" height="1.4"/><text class="l" x="853" y="844.5">Fslu_Fslu7g00583</text></g>
<g id="lf107"><text class="b" x="717" y="849.3">NA/99</text><rect class="m" x="717" y="849.6" width="4" height="1.4"/><text class="l" x="722" y="852.4">Lomi_Lomi13g01150</text></g>
<g id="lf108"><text class="b" x="772" y="857.2">0.00000</text><rect class="m" x="772" y="857.5" width="4" height="1.4"/><text class="l" x="777" y="860.3">Ecan_Ecan9g01738</text></g>
<g id="lf109"><text class="b" x="763" y="865.1">NA/99</text><rect class="m" x="763" y="865.4" width="4" height="1.4"/><text class="l" x="768" y="868.2">Erdr_Erdr5g00108</text></g>
<g id="lf110"><text class="b" x="777" y="873">0</text><rect class="m" x="777" y="873.3" width="4" height="1.4"/><text class="l" x="782" y="876.1">Scae_Scae10000025g01835</text></g>
<g id="lf111"><text class="b" x="777" y="880.9">0</text><rect class="m" x="777" y="881.2" width="4" height="1.4"/><text class="l" x="782" y="884">Snca_Soca8g02842</text></g>
<g id="lf112"><text class="b" x="775" y="888.8">0.0175</text><rect class="m" x="775" y="889.1" width="4" height="1.4"/><text class="l" x="780" y="891.9">Snca_Soca8g02213</text></g>
<g id="lf113"><text class="b" x="795" y="896.7">0.0264</text><rect class="m" x="795" y="897" width="4" height="1.4"/><text class="l" x="800" y="899.8">Sesq_Sesq10000050g02267</text></g>
<g id="lf114"><text class="b" x="802" y="904.6">0.0298</text><rect class="m" x="802" y="904.9" width="4" height="1.4"/><text class="l" x="807" y="907.7">Bial_Bial10g02165</text></g>
<g id="lf115"><text class="b" x="799" y="912.5">0.0274</text><rect class="m" x="799" y="912.8" width="4" height="1.4"/><text class="l" x="804" y="915.6">Nesu_Nesu10000007g00832</text></g>
<g id="lf116"><text class="b" x="930" y="920.4">0.112</text><rect class="m" x="930" y="920.7" width="4" height="1.4"/><text class="l" x="935" y="923.5">Amir_Amir28g01804</text></g>
<g id="lf117"><text class="b" x="921" y="928.3">0.00000</text><rect class="m" x="921" y="928.6" width="4" height="1.4"/><text class="l" x="926" y="931.4">Helu_Helu1g02185</text></g>
<g id="lf118"><text class="b" x="919" y="936.2">0</text><rect class="m" x="919" y="936.5" width="4" height="1.4"/><text class="l" x="924" y="939.3">Helu_Helu4g01660</text></g>
<g id="lf119"><text class="b" x="919" y="944.1">0</text><rect class="m" x="919" y="944.4" width="4" height="1.4"/><text class="l" x="924" y="947.2">Helu_Helu6g02034</text></g>
<g id="lf120"><text class="b" x="888" y="952">NA/99</text><rect class="m" x="888" y="952.3" width="4" height="1.4"/><text class="l" x="893" y="955.1">Ecr_Ecr9g02431</text></g>
<g id="lf121"><text class="b" x="913" y="959.9">NA/99</text><rect class="m" x="913" y="960.2" width="4" height="1.4"/><text class="l" x="918" y="963">Era_Era15g00882</text></g>
<g id="lf122"><text class="b" x="920" y="967.8">0.00079</text><rect class="m" x="920" y="968.1" width="4" height="1.4"/><text class="l" x="925" y="970.9">Era_Era14g00727</text></g>
<g id="lf123"><text class="b" x="919" y="975.7">0.0748</text><rect class="m" x="919" y="976" width="4" height="1.4"/><text class="l" x="924" y="978.8">Sire_Sire12g01803</text></g>
<g id="lf124"><text class="b" x="910" y="983.6">0.064</text><rect class="m" x="910" y="983.9" width="4" height="1.4"/><text class="l" x="915" y="986.7">Taer_Taer3g00584</text></g>
<g id="scale"><path d="M7,990H45M7,988.5V991.5M45,988.5V991.5" fill="none" stroke="#555" stroke-width="1"/><text x="8" y="997" style="font-family:'Liberation Sans',Arial,sans-serif;font-size:5.5px;fill:#555;letter-spacing:0.9px">0.05</text></g>
</svg>
